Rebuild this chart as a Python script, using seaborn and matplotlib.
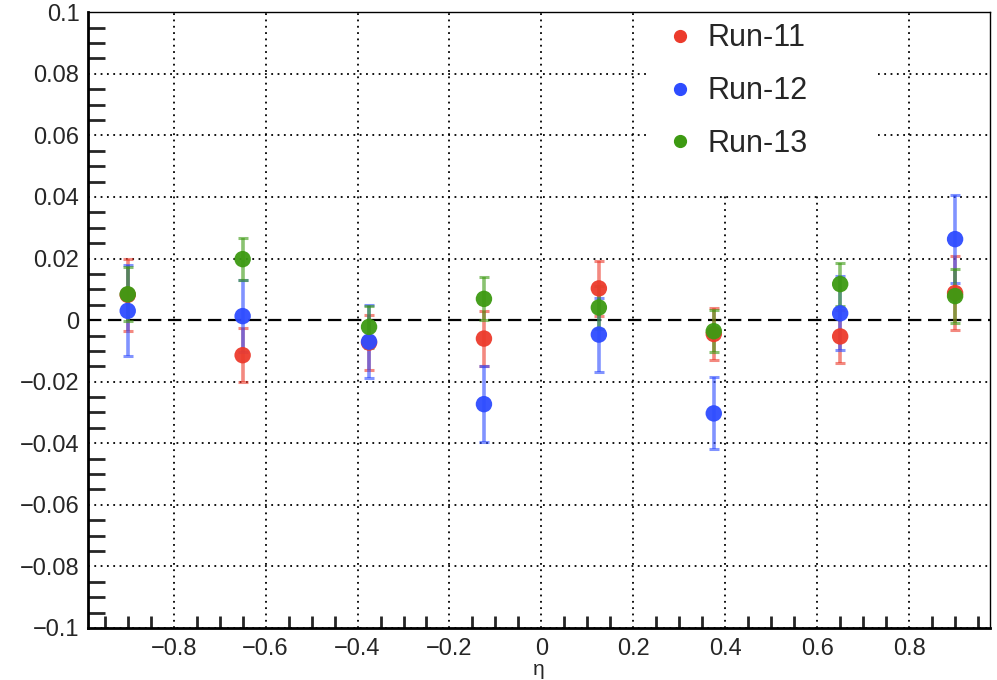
import numpy as np
import pandas as pd
import matplotlib
matplotlib.use("Agg")
import matplotlib.pyplot as plt
from matplotlib.patches import Rectangle
from matplotlib.lines import Line2D
import seaborn as sns

eta = [-0.9, -0.65, -0.375, -0.125, 0.125, 0.375, 0.65, 0.9]
run11 = [0.0082, -0.0114, -0.0073, -0.0060, 0.0103, -0.0045, -0.0053, 0.0088]
run11_err = [0.0118, 0.0087, 0.0089, 0.0090, 0.0090, 0.0085, 0.0085, 0.0120]
run12 = [0.0030, 0.0013, -0.0070, -0.0273, -0.0047, -0.0303, 0.0022, 0.0263]
run12_err = [0.0148, 0.0117, 0.0118, 0.0123, 0.0120, 0.0117, 0.0120, 0.0143]
run13 = [0.0084, 0.0198, -0.0022, 0.0069, 0.0041, -0.0036, 0.0117, 0.0078]
run13_err = [0.0087, 0.0068, 0.0068, 0.0070, 0.0070, 0.0068, 0.0070, 0.0088]
series_names = ["Run-11", "Run-12", "Run-13"]
colors = ["#ec3b2c", "#2e4cff", "#3d9a12"]
yticks = [-0.1, -0.08, -0.06, -0.04, -0.02, 0, 0.02, 0.04, 0.06, 0.08, 0.1]
ytick_labels = ["\u22120.1", "\u22120.08", "\u22120.06", "\u22120.04", "\u22120.02", "0",
                "0.02", "0.04", "0.06", "0.08", "0.1"]
xticks = [-0.8, -0.6, -0.4, -0.2, 0, 0.2, 0.4, 0.6, 0.8]
xtick_labels = ["\u22120.8", "\u22120.6", "\u22120.4", "\u22120.2", "0", "0.2", "0.4", "0.6", "0.8"]

sns.set_theme(style="white")
plt.rcParams['font.family'] = ['Liberation Sans', 'DejaVu Sans']

frames = []
for name, vals, errs in zip(series_names, [run11, run12, run13], [run11_err, run12_err, run13_err]):
    frames.append(pd.DataFrame({"eta": eta, "val": vals, "err": errs, "run": name}))
df = pd.concat(frames, ignore_index=True)

fig = plt.figure(figsize=(9.97, 6.8), dpi=100)
ax = fig.add_axes([0.088, 0.0765, 0.905, 0.9055])

ax.set_xlim(-0.987, 0.976)
ax.set_ylim(-0.1, 0.1)

# grid
for xv in xticks:
    ax.axvline(xv, color="black", lw=1.3, ls=(0, (1, 2.5)), zorder=0.5)
for yv in yticks:
    if yv != 0:
        ax.axhline(yv, color="black", lw=1.3, ls=(0, (1, 2.5)), zorder=0.5)

# legend background
ax.add_patch(Rectangle((0.623, 0.703), 0.253, 0.297, transform=ax.transAxes,
                       facecolor="white", edgecolor="none", zorder=1))

ax.axhline(0, color="black", lw=1.6, ls=(0, (6, 3)), zorder=1.5)

for name, c in zip(series_names, colors):
    sub = df[df.run == name]
    ax.errorbar(sub.eta, sub.val, yerr=sub.err, fmt="none", ecolor=c, elinewidth=2.6,
                capsize=3.5, capthick=2.2, alpha=0.6, zorder=2)

sns.scatterplot(data=df, x="eta", y="val", hue="run", palette=colors, s=140,
                edgecolor="none", alpha=0.95, legend=False, ax=ax, zorder=3)

handles = [Line2D([], [], marker="o", ls="none", color=c, markersize=8.5) for c in colors]
ax.legend(handles, series_names, loc="upper left", bbox_to_anchor=(0.64, 0.982),
          frameon=False, fontsize=22, handlelength=1.0, handletextpad=0.4,
          labelspacing=0.75, borderpad=0.0, borderaxespad=0.0)

ax.set_xticks(xticks)
ax.set_xticklabels(xtick_labels, fontsize=17)
ax.set_yticks(yticks)
ax.set_yticklabels(ytick_labels, fontsize=17)
ax.set_xticks(np.arange(-0.95, 0.96, 0.05), minor=True)
ax.set_yticks(np.arange(-0.1, 0.1001, 0.005), minor=True)
ax.tick_params(axis="y", which="major", direction="in", length=24, width=2, pad=6)
ax.tick_params(axis="y", which="minor", direction="in", length=12, width=2, left=True)
ax.tick_params(axis="x", which="major", direction="in", length=18, width=2, pad=7)
ax.tick_params(axis="x", which="minor", direction="in", length=9, width=2, bottom=True)

for s in ["left", "bottom"]:
    ax.spines[s].set_linewidth(2)
    ax.spines[s].set_color("black")
for s in ["top", "right"]:
    ax.spines[s].set_linewidth(1)
    ax.spines[s].set_color("black")

ax.set_xlabel("\u03b7", fontsize=15, labelpad=0)
ax.set_ylabel("")

fig.savefig("out.png", dpi=100)
